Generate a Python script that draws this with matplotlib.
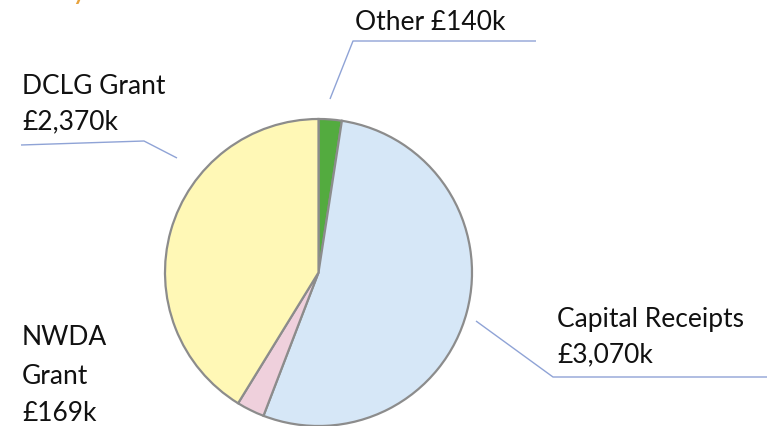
import numpy as np
import matplotlib
matplotlib.use('Agg')
import matplotlib.pyplot as plt

# funding sources (£k)
sources = ['Other', 'Capital Receipts', 'NWDA Grant', 'DCLG Grant']
values = [140, 3070, 169, 2370]
colors = ['#53ab3f', '#d6e7f7', '#efd0dc', '#fff8b6']

W, H = 767, 427
plt.rcParams['font.family'] = ['Lato', 'DejaVu Sans']

fig = plt.figure(figsize=(W / 100, H / 100), dpi=100)
ax = fig.add_axes([0, 0, 1, 1])

def yy(y):
    # image pixel row -> data y
    return H - y

ax.pie(values, colors=colors, startangle=90, counterclock=False,
       center=(318.5, yy(273.5)), radius=153.5, frame=True,
       wedgeprops=dict(edgecolor='#8c8c8c', linewidth=1.6))
ax.set_xlim(0, W)
ax.set_ylim(0, H)
ax.set_aspect('equal')
ax.axis('off')

line_c = '#8fa3d6'
leaders = [
    ([330, 353, 536], [100, 42, 42]),
    ([177, 144, 21], [159, 142, 146]),
    ([476, 553, 767], [322, 378, 378]),
]
for xs, ys in leaders:
    ax.plot(xs, [yy(v) for v in ys], color=line_c, lw=1.0, solid_capstyle='butt')

fs = 19
tc = '#111111'
ax.text(355, yy(30), 'Other £140k', fontsize=fs, va='baseline', ha='left', color=tc)
ax.text(557, yy(327), 'Capital Receipts', fontsize=fs, va='baseline', color=tc)
ax.text(557, yy(362), '£3,070k', fontsize=fs, va='baseline', color=tc)
ax.text(22, yy(94), 'DCLG Grant', fontsize=fs, va='baseline', color=tc)
ax.text(22, yy(129), '£2,370k', fontsize=fs, va='baseline', color=tc)
for txt, b in zip(['NWDA', 'Grant', '£169k'], [345, 384, 421]):
    ax.text(22, yy(b), txt, fontsize=fs, va='baseline', color=tc)

# cropped title, only the tail of a letter is visible
fig.text(72 / W, 1 + 1.5 / H, 'y', fontsize=22, color='#e8a33d', va='baseline', ha='left')

fig.savefig('out.png', dpi=100)
